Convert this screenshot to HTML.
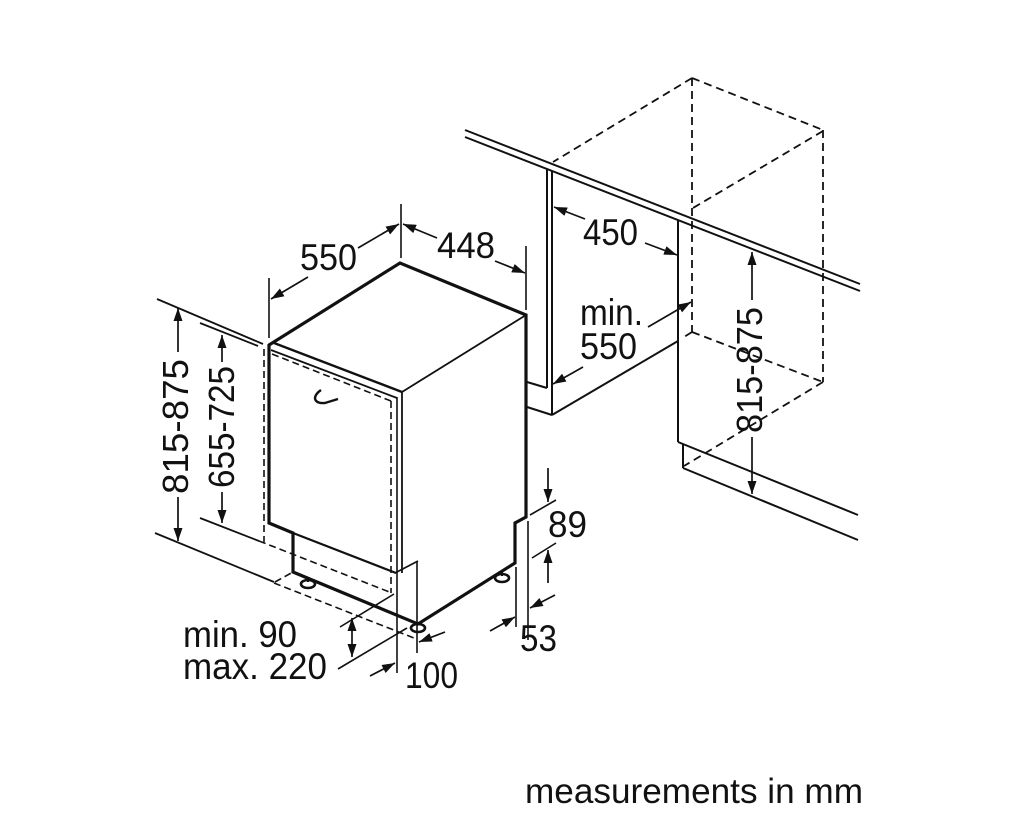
<!DOCTYPE html>
<html>
<head>
<meta charset="utf-8">
<style>
html,body{margin:0;padding:0;background:#fff;}
svg{display:block;}
text{font-family:"Liberation Sans",Arial,sans-serif;font-size:37px;fill:#111;}
text.m{font-size:35px;}
text.r{font-size:36px;}
</style>
</head>
<body>
<svg width="1024" height="835" viewBox="0 0 1024 835" xmlns="http://www.w3.org/2000/svg">
<defs>
<marker id="a" viewBox="0 0 13 9" refX="13" refY="4.5" markerWidth="13" markerHeight="9" orient="auto" markerUnits="userSpaceOnUse">
<path d="M0,0 L13,4.5 L0,9 z" fill="#111"/>
</marker>
</defs>
<rect width="1024" height="835" fill="#fff"/>

<g stroke="#111" fill="none" stroke-linecap="butt">
<!-- countertop -->
<line x1="465" y1="130" x2="860" y2="284" stroke-width="2"/>
<line x1="465" y1="137" x2="860" y2="291" stroke-width="2"/>

<!-- left cabinet -->
<line x1="547" y1="169" x2="547" y2="388" stroke-width="2"/>
<line x1="552" y1="171" x2="552" y2="415" stroke-width="2"/>
<line x1="527" y1="382" x2="547" y2="388" stroke-width="2"/>
<line x1="527" y1="407" x2="552" y2="415" stroke-width="2"/>
<line x1="552" y1="415" x2="678" y2="341" stroke-width="2"/>

<!-- right cabinet -->
<line x1="678" y1="220" x2="678" y2="442" stroke-width="2"/>
<line x1="678" y1="442" x2="858" y2="515" stroke-width="2"/>
<line x1="683" y1="444" x2="683" y2="468" stroke-width="2"/>
<line x1="683" y1="468" x2="858" y2="540" stroke-width="2"/>

<!-- dashed niche -->
<g stroke-dasharray="8,5" stroke-width="1.8">
<line x1="692" y1="78" x2="823" y2="130"/>
<line x1="692" y1="78" x2="553" y2="162"/>
<line x1="692" y1="78" x2="692" y2="332"/>
<line x1="823" y1="130" x2="823" y2="382"/>
<line x1="823" y1="131" x2="693" y2="208"/>
<line x1="692" y1="332" x2="823" y2="382"/>
<line x1="692" y1="332" x2="684" y2="337"/>
<line x1="823" y1="382" x2="684" y2="466"/>
</g>

<!-- dishwasher outline (thick) -->
<polygon points="293,533 269,523 269,345 400,263 526,315 526,517 515,523 515,563 418,624 293,572" stroke-width="3.2" stroke-linejoin="miter"/>
<line x1="526" y1="315" x2="402" y2="392" stroke-width="1.8"/>
<line x1="274" y1="343" x2="402" y2="392" stroke-width="2.4"/>
<line x1="271" y1="350" x2="397" y2="398" stroke-width="1.8"/>
<line x1="402" y1="391" x2="402" y2="573" stroke-width="1.8"/>
<line x1="397" y1="397" x2="397" y2="673" stroke-width="1.6"/>
<line x1="395" y1="573" x2="418" y2="561" stroke-width="1.6"/>
<line x1="417" y1="561" x2="417" y2="653" stroke-width="1.6"/>
<line x1="293" y1="533" x2="396" y2="573" stroke-width="2.2"/>

<!-- handle -->
<path d="M321,390 C312,396 313,404 325,403 L338,399" stroke-width="2.4"/>

<!-- door dashed -->
<g stroke-dasharray="7,4" stroke-width="1.6">
<line x1="264" y1="349" x2="264" y2="542"/>
<line x1="272" y1="354" x2="391" y2="401"/>
<line x1="391" y1="401" x2="391" y2="593"/>
<line x1="259" y1="541" x2="392" y2="593"/>
<line x1="274" y1="583" x2="414" y2="638"/>
<line x1="275" y1="582" x2="293" y2="572"/>
</g>

<!-- feet -->
<line x1="308" y1="578" x2="308" y2="582" stroke-width="2"/>
<ellipse cx="308" cy="584" rx="7" ry="4" stroke-width="2.6"/>
<ellipse cx="418" cy="628" rx="7" ry="4" stroke-width="2.6"/>
<line x1="502" y1="571" x2="502" y2="576" stroke-width="2"/>
<ellipse cx="502" cy="578" rx="7" ry="4" stroke-width="2.6"/>

<!-- left level lines -->
<line x1="157" y1="299" x2="263" y2="344" stroke-width="1.8"/>
<line x1="200" y1="323" x2="258" y2="346" stroke-width="1.8"/>
<line x1="155" y1="533" x2="274" y2="582" stroke-width="1.8"/>
<line x1="200" y1="518" x2="259" y2="541" stroke-width="1.8"/>

<!-- extension lines -->
<g stroke-width="1.6">
<line x1="401" y1="204" x2="401" y2="258"/>
<line x1="269" y1="278" x2="269" y2="338"/>
<line x1="526" y1="246" x2="526" y2="310"/>
<line x1="530" y1="515" x2="556" y2="500"/>
<line x1="532" y1="558" x2="556" y2="543"/>
<line x1="528" y1="521" x2="528" y2="640"/>
<line x1="516" y1="567" x2="516" y2="627"/>
<line x1="340" y1="627" x2="394" y2="594"/>
<line x1="338" y1="669" x2="407" y2="628"/>
</g>

<!-- dimension arrows -->
<g stroke-width="1.7" marker-end="url(#a)">
<line x1="308" y1="277" x2="271" y2="299"/>
<line x1="358" y1="248" x2="399" y2="224"/>
<line x1="437" y1="238" x2="403" y2="224"/>
<line x1="495" y1="261" x2="525" y2="273"/>
<line x1="585" y1="219" x2="554" y2="207"/>
<line x1="645" y1="243" x2="677" y2="255"/>
<line x1="648" y1="327" x2="691" y2="302"/>
<line x1="583" y1="367" x2="553" y2="384"/>
<line x1="752" y1="300" x2="752" y2="252"/>
<line x1="752" y1="437" x2="752" y2="494"/>
<line x1="178" y1="352" x2="178" y2="308"/>
<line x1="178" y1="497" x2="178" y2="541"/>
<line x1="222" y1="362" x2="222" y2="335"/>
<line x1="222" y1="492" x2="222" y2="523"/>
<line x1="548" y1="468" x2="548" y2="502"/>
<line x1="548" y1="583" x2="548" y2="550"/>
<line x1="490" y1="631" x2="515" y2="617"/>
<line x1="555" y1="595" x2="530" y2="608"/>
<line x1="370" y1="676" x2="395" y2="663"/>
<line x1="445" y1="632" x2="419" y2="642"/>
<line x1="352" y1="638" x2="352" y2="618"/>
<line x1="352" y1="638" x2="352" y2="657"/>
</g>
</g>

<!-- labels -->
<text x="300" y="270" textLength="57" lengthAdjust="spacingAndGlyphs">550</text>
<text x="437" y="258" textLength="58" lengthAdjust="spacingAndGlyphs">448</text>
<text x="583" y="245" textLength="55" lengthAdjust="spacingAndGlyphs">450</text>
<text x="580" y="325" textLength="63" lengthAdjust="spacingAndGlyphs">min.</text>
<text x="580" y="359" textLength="57" lengthAdjust="spacingAndGlyphs">550</text>
<text x="548" y="537" textLength="39" lengthAdjust="spacingAndGlyphs">89</text>
<text x="520" y="651" textLength="37" lengthAdjust="spacingAndGlyphs">53</text>
<text x="405" y="688" textLength="53" lengthAdjust="spacingAndGlyphs">100</text>
<text x="183" y="647" textLength="114" lengthAdjust="spacingAndGlyphs">min. 90</text>
<text x="183" y="679" textLength="144" lengthAdjust="spacingAndGlyphs">max. 220</text>
<text class="m" x="525" y="803" textLength="338" lengthAdjust="spacingAndGlyphs">measurements in mm</text>

<text class="r" transform="translate(188,494) rotate(-90)" textLength="135" lengthAdjust="spacingAndGlyphs">815-875</text>
<text class="r" transform="translate(234,488) rotate(-90)" textLength="122" lengthAdjust="spacingAndGlyphs">655-725</text>
<text class="r" transform="translate(762,433) rotate(-90)" textLength="126" lengthAdjust="spacingAndGlyphs">815-875</text>
</svg>
</body>
</html>
